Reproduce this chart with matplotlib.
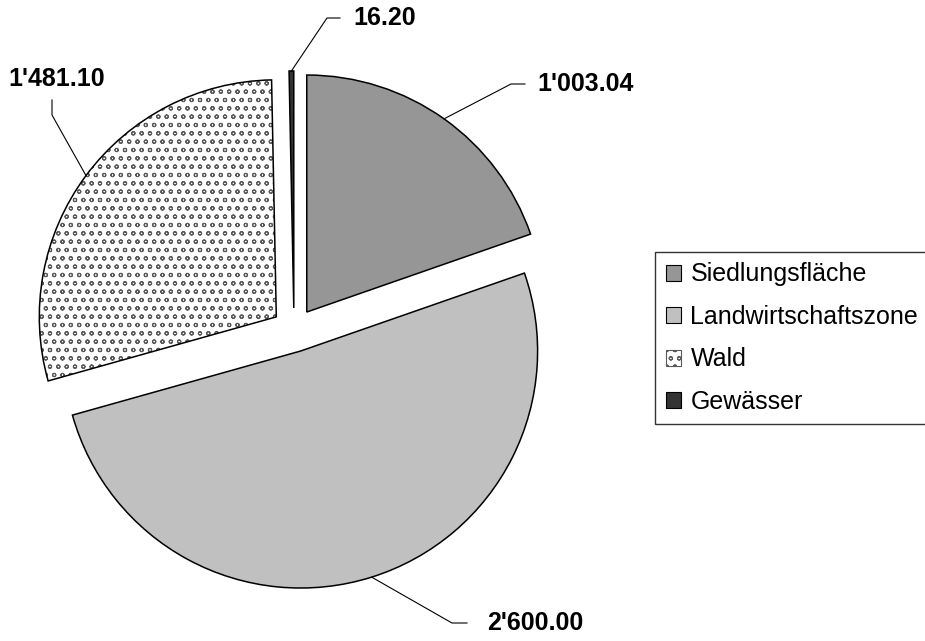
import matplotlib
matplotlib.use("Agg")
import matplotlib.pyplot as plt
from matplotlib.patches import Wedge, Patch
import numpy as np

plt.rcParams['font.family'] = ['Liberation Sans', 'DejaVu Sans']
plt.rcParams['hatch.linewidth'] = 0.8

# data
categories = ["Siedlungsfläche", "Landwirtschaftszone", "Wald", "Gewässer"]
values = [1003.04, 2600.00, 1481.10, 16.20]
labels = ["1'003.04", "2'600.00", "1'481.10", "16.20"]
colors = ["#969696", "#c0c0c0", "#ffffff", "#333333"]

W, H = 925, 641
R = 237
fig = plt.figure(figsize=(W / 100, H / 100), dpi=100)
ax = fig.add_axes([0, 0, 1, 1])

# pie explode is not scaled by radius, so give it in pixels
wedges, _ = ax.pie(values, colors=colors, startangle=90, counterclock=False,
                   explode=[0.093 * R] * 4, radius=R, center=(294, H - 330),
                   wedgeprops=dict(edgecolor="black", linewidth=1.1))
ax.set_xlim(0, W)
ax.set_ylim(0, H)
ax.set_aspect("equal")
ax.axis("off")

# Wald: hatch pattern + separate outline
wald = wedges[2]
wald.set_edgecolor("#5a5a5a")
wald.set_linewidth(0)
wald.set_hatch("oo")
ax.add_patch(Wedge(wald.center, wald.r, wald.theta1, wald.theta2,
                   fill=False, edgecolor="black", linewidth=1.1))

# leader lines: (elbow, end of line, text anchor) in pixels from top-left
leaders = [
    ((511, 84), (525, 84), (537, 84), "left"),
    ((452, 623), (467, 623), (487, 623), "left"),
    ((52, 115), (52, 100), (57, 79), "center"),
    ((327, 18), (340, 18), (353, 18), "left"),
]
for w, lab, (elb, end, txt, ha) in zip(wedges, labels, leaders):
    mid = np.deg2rad((w.theta1 + w.theta2) / 2)
    x0 = w.center[0] + w.r * np.cos(mid)
    y0 = w.center[1] + w.r * np.sin(mid)
    ax.plot([x0, elb[0], end[0]], [y0, H - elb[1], H - end[1]],
            color="black", linewidth=0.8)
    ax.text(txt[0], H - txt[1], lab, ha=ha, va="center", fontsize=18,
            fontweight="bold")

handles = [Patch(facecolor=c, edgecolor="black", linewidth=0.8) for c in colors]
handles[2] = Patch(facecolor="white", edgecolor="#5a5a5a", hatch="oo", linewidth=0.8)
leg = fig.legend(handles, categories, loc="upper left",
                 bbox_to_anchor=(655 / W, 1 - 252 / H), borderaxespad=0,
                 fontsize=18, frameon=True, fancybox=False, edgecolor="black",
                 handlelength=0.6, handleheight=0.6, handletextpad=0.4,
                 labelspacing=0.74, borderpad=0.42)
leg.get_frame().set_linewidth(1.0)

fig.savefig("out.png", dpi=100)
